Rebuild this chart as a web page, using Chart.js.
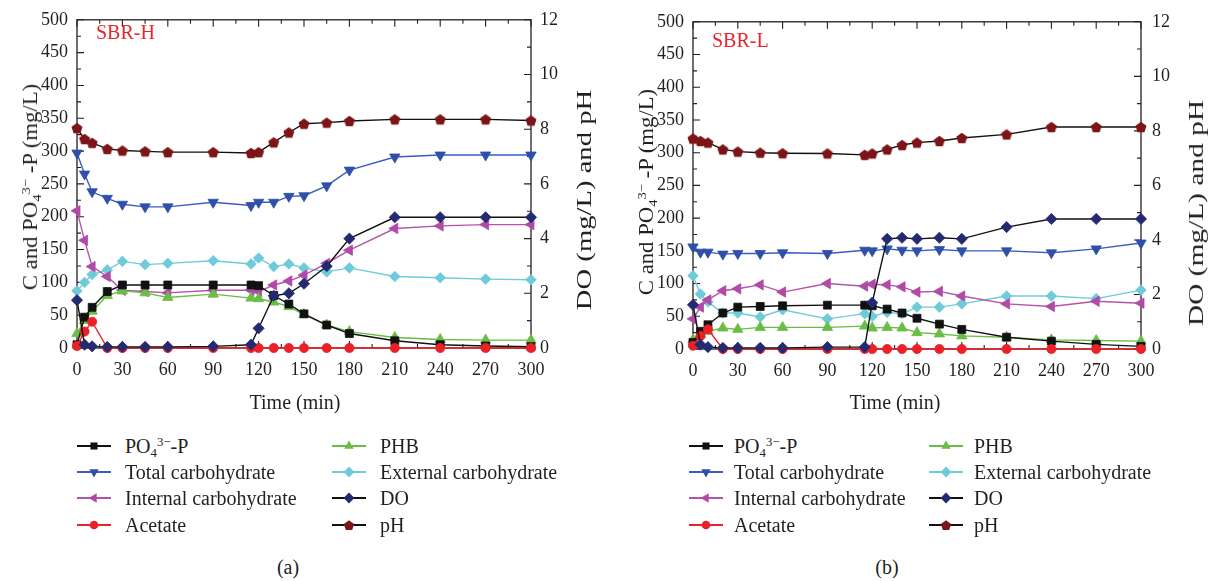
<!DOCTYPE html>
<html lang="en">
<head>
<meta charset="UTF-8">
<title>SBR-H and SBR-L cycle profiles</title>
<script src="https://cdn.jsdelivr.net/npm/chart.js"></script>
<style>
    body {
        margin: 0;
        width: 1212px;
        height: 581px;
        position: relative;
        overflow: hidden;
        background: #fff;
        font-family: 'Liberation Serif', 'Times New Roman', serif;
        color: #231f20;
    }
    canvas { position: absolute; top: 0; }
    .txt { position: absolute; white-space: nowrap; font-size: 20px; line-height: 1; }
    .center { transform: translate(-50%, -50%); }
    .rot { transform-origin: center; }
    .tag { color: #e8262c; }
    sub, sup { font-size: 64%; line-height: 0; }
    sub { vertical-align: -0.3em; }
    sup { vertical-align: 0.55em; }
    .lg { position: absolute; display: flex; align-items: center; font-size: 20px; line-height: 1; white-space: nowrap; }
    .lg canvas { position: static; margin-right: 0; }
</style>
</head>
<body>

<canvas id="chartH" width="606" height="400" style="left:0px"></canvas>
<canvas id="chartL" width="606" height="400" style="left:606px"></canvas>

<div id="overlay"></div>

<script>
    // Sampling times (min), same for both reactors
    var time = [0, 5, 10, 20, 30, 45, 60, 90, 115, 120, 130, 140, 150, 165, 180, 210, 240, 270, 300];

    // SBR-H (left axis, mg/L)
    var po4H      = [5, 47, 62, 86, 96, 96, 96, 96, 96, 95, 80, 67, 52, 35, 22, 11, 5, 3, 2];
    var totalH    = [297, 265, 238, 228, 219, 215, 215, 222, 217, 222, 222, 231, 232, 247, 271, 291, 294, 294, 294];
    var internalH = [209, 164, 124, 109, 88, 86, 84, 88, 88, 86, 96, 102, 111, 129, 149, 182, 186, 188, 188];
    var externalH = [87, 100, 112, 119, 132, 127, 129, 133, 128, 137, 124, 128, 122, 116, 122, 109, 107, 105, 104];
    var phbH      = [22, 42, 56, 80, 87, 84, 77, 82, 76, 75, 70, 63, 51, 35, 25, 16, 13, 12, 12];
    var acetateH  = [3, 25, 40, 0, 0, 0, 0, 0, 0, 0, 0, 0, 0, 0, 0, 0, 0, 0, 0];
    // SBR-H (right axis)
    var doH = [1.75, 0.12, 0.06, 0.04, 0.04, 0.04, 0.04, 0.06, 0.12, 0.72, 1.91, 2.0, 2.35, 2.99, 4.0, 4.78, 4.78, 4.78, 4.78];
    var phH = [8.04, 7.64, 7.5, 7.28, 7.22, 7.19, 7.16, 7.16, 7.13, 7.16, 7.52, 7.88, 8.2, 8.24, 8.3, 8.36, 8.36, 8.36, 8.32];

    // SBR-L (left axis, mg/L)
    var po4L      = [10, 27, 37, 55, 64, 65, 66, 67, 67, 66, 61, 55, 47, 38, 30, 18, 12, 7, 4];
    var totalL    = [156, 148, 148, 145, 146, 146, 147, 146, 151, 150, 153, 151, 150, 152, 150, 150, 147, 153, 162];
    var internalL = [46, 64, 75, 89, 92, 98, 87, 100, 96, 99, 98, 95, 87, 88, 81, 69, 65, 73, 70];
    var externalL = [112, 84, 72, 55, 55, 49, 60, 46, 54, 50, 56, 54, 64, 64, 69, 81, 81, 77, 90];
    var phbL      = [14, 22, 27, 32, 30, 33, 33, 33, 35, 32, 33, 32, 25, 23, 20, 18, 14, 13, 12];
    var acetateL  = [5, 20, 30, 0, 0, 0, 0, 0, 0, 0, 0, 0, 0, 0, 0, 0, 0, 0, 0];
    // SBR-L (right axis)
    var doL = [1.62, 0.16, 0.07, 0.04, 0.04, 0.04, 0.04, 0.07, 0.07, 1.70, 4.04, 4.08, 4.04, 4.08, 4.04, 4.47, 4.77, 4.77, 4.77];
    var phL = [7.72, 7.63, 7.57, 7.32, 7.24, 7.20, 7.18, 7.17, 7.12, 7.17, 7.32, 7.48, 7.57, 7.63, 7.74, 7.87, 8.14, 8.14, 8.14];

    // Axis ranges / ticks
    var xRange = [0, 300], xStep = 30;
    var yRange = [0, 500], yStep = 50;
    var y2Range = [0, 12], y2Step = 2;

    var ink = '#231f20';
    var tickFont = { family: "'Liberation Serif', 'Times New Roman', serif", size: 18 };

    // Series look: line colour, marker colour, marker shape
    var styles = {
        po4:      { line: '#111111', fill: '#111111', shape: 'rect',     rot: 0,   r: 5.6 },
        total:    { line: '#3b5cc0', fill: '#2f4fa8', shape: 'triangle', rot: 180, r: 6 },
        internal: { line: '#b453aa', fill: '#b04aa6', shape: 'triangle', rot: 270, r: 6 },
        acetate:  { line: '#ec2027', fill: '#ec2027', shape: 'circle',   rot: 0,   r: 4.6 },
        phb:      { line: '#6abd45', fill: '#6abd45', shape: 'triangle', rot: 0,   r: 6 },
        external: { line: '#6fcbd9', fill: '#6fcbd9', shape: 'rectRot',  rot: 0,   r: 5.3 },
        dO:       { line: '#111111', fill: '#242a6f', shape: 'rectRot',  rot: 0,   r: 5.6 },
        ph:       { line: '#111111', fill: '#7d1518', shape: 'pentagon', rot: 0,   r: 5.8 }
    };

    function makePentagon(r, color) {
        var c = document.createElement('canvas');
        var s = Math.ceil(r * 2 + 2);
        c.width = s; c.height = s;
        var g = c.getContext('2d');
        g.fillStyle = color;
        g.beginPath();
        for (var k = 0; k < 5; k++) {
            var a = -Math.PI / 2 + k * 2 * Math.PI / 5;
            var px = s / 2 + r * Math.cos(a), py = s / 2 + 0.6 + r * Math.sin(a);
            if (k) g.lineTo(px, py); else g.moveTo(px, py);
        }
        g.closePath();
        g.fill();
        return c;
    }

    function pts(vals) {
        return time.map(function (t, i) { return { x: t, y: vals[i] }; });
    }

    function dataset(key, vals, axis) {
        var st = styles[key];
        var shape = st.shape === 'pentagon' ? makePentagon(st.r, st.fill) : st.shape;
        return {
            data: pts(vals),
            yAxisID: axis,
            borderColor: st.line,
            backgroundColor: st.fill,
            borderWidth: 1.4,
            pointStyle: shape,
            pointRotation: st.rot,
            pointRadius: st.r,
            pointHoverRadius: st.r,
            pointBackgroundColor: st.fill,
            pointBorderColor: st.fill,
            pointBorderWidth: 0.8,
            tension: 0,
            clip: false
        };
    }

    // Draws the box and inward major/minor ticks
    var frameTicks = {
        id: 'frameTicks',
        beforeDatasetsDraw: function (chart) {
            var ctx = chart.ctx, a = chart.chartArea, s = chart.scales;
            ctx.save();
            ctx.strokeStyle = ink;
            ctx.lineWidth = 1.3;
            ctx.strokeRect(a.left, a.top, a.right - a.left, a.bottom - a.top);
            ctx.lineWidth = 1.1;
            ctx.beginPath();
            var v, p, len;
            for (v = xRange[0]; v <= xRange[1]; v += xStep / 2) {
                p = s.x.getPixelForValue(v);
                len = (v % xStep) ? 4 : 7;
                ctx.moveTo(p, a.bottom); ctx.lineTo(p, a.bottom - len);
                ctx.moveTo(p, a.top); ctx.lineTo(p, a.top + len);
            }
            for (v = yRange[0]; v <= yRange[1]; v += yStep / 2) {
                p = s.y.getPixelForValue(v);
                len = (v % yStep) ? 4 : 7;
                ctx.moveTo(a.left, p); ctx.lineTo(a.left + len, p);
            }
            for (v = y2Range[0]; v <= y2Range[1]; v += y2Step / 2) {
                p = s.y2.getPixelForValue(v);
                len = (v % y2Step) ? 4 : 7;
                ctx.moveTo(a.right, p); ctx.lineTo(a.right - len, p);
            }
            ctx.stroke();
            ctx.restore();
        }
    };

    function makeChart(id, g, d) {
        var ctx = document.getElementById(id).getContext('2d');
        return new Chart(ctx, {
            type: 'line',
            data: {
                datasets: [
                    dataset('ph', d.ph, 'y2'),
                    dataset('dO', d.dO, 'y2'),
                    dataset('acetate', d.acetate, 'y'),
                    dataset('po4', d.po4, 'y'),
                    dataset('phb', d.phb, 'y'),
                    dataset('internal', d.internal, 'y'),
                    dataset('external', d.external, 'y'),
                    dataset('total', d.total, 'y')
                ]
            },
            options: {
                responsive: false,
                animation: false,
                layout: { padding: { top: g.padTop, left: 0, right: 0, bottom: 0 } },
                plugins: { legend: { display: false }, tooltip: { enabled: false } },
                scales: {
                    x: {
                        type: 'linear', position: 'bottom', min: xRange[0], max: xRange[1],
                        ticks: { stepSize: xStep, font: tickFont, color: ink, padding: 11, maxRotation: 0, autoSkip: false },
                        grid: { display: false, drawTicks: false },
                        border: { display: false },
                        afterFit: function (sc) { sc.height = g.xHeight; }
                    },
                    y: {
                        type: 'linear', position: 'left', min: yRange[0], max: yRange[1],
                        ticks: { stepSize: yStep, font: tickFont, color: ink, padding: 9 },
                        grid: { display: false, drawTicks: false },
                        border: { display: false },
                        afterFit: function (sc) { sc.width = g.yWidth; }
                    },
                    y2: {
                        type: 'linear', position: 'right', min: y2Range[0], max: y2Range[1],
                        ticks: { stepSize: y2Step, font: tickFont, color: ink, padding: g.y2Pad },
                        grid: { display: false, drawTicks: false },
                        border: { display: false },
                        afterFit: function (sc) { sc.width = g.y2Width; }
                    }
                }
            },
            plugins: [frameTicks]
        });
    }

    makeChart('chartH', { padTop: 13, xHeight: 52, yWidth: 77, y2Width: 75, y2Pad: 9 },
        { po4: po4H, total: totalH, internal: internalH, external: externalH, phb: phbH,
          acetate: acetateH, dO: doH, ph: phH });
    makeChart('chartL', { padTop: 20, xHeight: 51, yWidth: 87, y2Width: 71, y2Pad: 11 },
        { po4: po4L, total: totalL, internal: internalL, external: externalL, phb: phbL,
          acetate: acetateL, dO: doL, ph: phL });

    // ---- text overlay: titles, tags, legends, captions ----
    var overlay = document.getElementById('overlay');
    var leftTitle = 'C and PO<sub>4</sub><sup>3−</sup> -P (mg/L)';
    var rightTitle = 'DO (mg/L) and pH';

    function addText(html, x, y, cls) {
        var el = document.createElement('div');
        el.className = 'txt center ' + (cls || '');
        el.innerHTML = html;
        el.style.left = x + 'px';
        el.style.top = y + 'px';
        overlay.appendChild(el);
        return el;
    }

    // vertical title, stretched to the length seen in the figure
    function addVTitle(html, x, y, len, size) {
        var el = addText(html, x, y, 'rot');
        el.style.fontSize = size + 'px';
        var k = len / el.offsetWidth;
        el.style.transform = 'translate(-50%, -50%) rotate(-90deg) scaleX(' + k.toFixed(3) + ')';
    }

    addVTitle(leftTitle, 30, 187, 207, 20);
    addVTitle(rightTitle, 584, 200, 220, 22);
    addVTitle(leftTitle, 646, 192, 207, 20);
    addVTitle(rightTitle, 1196, 213, 226, 22);

    addText('Time (min)', 295, 402);
    addText('Time (min)', 895, 402);
    addText('(a)', 288, 567);
    addText('(b)', 887, 567);

    var tagH = addText('SBR-H', 96, 32, 'tag');
    tagH.style.transform = 'translate(0, -50%)';
    var tagL = addText('SBR-L', 712, 40, 'tag');
    tagL.style.transform = 'translate(0, -50%)';

    function drawMarker(g, st, x, y, r) {
        g.fillStyle = st.fill;
        g.beginPath();
        var k, a;
        if (st.shape === 'rect') {
            var h = r * Math.SQRT1_2;
            g.rect(x - h, y - h, 2 * h, 2 * h);
        } else if (st.shape === 'circle') {
            g.arc(x, y, r, 0, Math.PI * 2);
        } else if (st.shape === 'rectRot') {
            g.moveTo(x, y - r); g.lineTo(x + r, y); g.lineTo(x, y + r); g.lineTo(x - r, y);
        } else if (st.shape === 'triangle') {
            for (k = 0; k < 3; k++) {
                a = (st.rot + k * 120) * Math.PI / 180;
                g[k ? 'lineTo' : 'moveTo'](x + Math.sin(a) * r, y - Math.cos(a) * r);
            }
        } else {
            for (k = 0; k < 5; k++) {
                a = -Math.PI / 2 + k * 2 * Math.PI / 5;
                g[k ? 'lineTo' : 'moveTo'](x + r * Math.cos(a), y + 0.6 + r * Math.sin(a));
            }
        }
        g.closePath();
        g.fill();
    }

    var legendCols = [
        [['po4', 'PO<sub>4</sub><sup>3−</sup>-P'], ['total', 'Total carbohydrate'],
         ['internal', 'Internal carbohydrate'], ['acetate', 'Acetate']],
        [['phb', 'PHB'], ['external', 'External carbohydrate'], ['dO', 'DO'], ['ph', 'pH']]
    ];
    var legendRows = [446, 472, 498, 525];

    function addLegend(colX, gap) {
        legendCols.forEach(function (col, ci) {
            col.forEach(function (item, ri) {
                var st = styles[item[0]];
                var row = document.createElement('div');
                row.className = 'lg';
                row.style.left = colX[ci] + 'px';
                row.style.top = (legendRows[ri] - 10) + 'px';
                row.style.height = '20px';
                var c = document.createElement('canvas');
                c.width = 34; c.height = 16;
                c.style.marginRight = gap + 'px';
                var g = c.getContext('2d');
                g.strokeStyle = st.line;
                g.lineWidth = 1.8;
                g.beginPath(); g.moveTo(0, 8); g.lineTo(34, 8); g.stroke();
                drawMarker(g, st, 17, 8, item[0] === 'po4' ? 5 : (st.shape === 'circle' ? 4.3 : 5.4));
                row.appendChild(c);
                var span = document.createElement('span');
                span.innerHTML = item[1];
                row.appendChild(span);
                overlay.appendChild(row);
            });
        });
    }

    addLegend([77, 332], 14);
    addLegend([689, 929], 11);
</script>

</body>
</html>
